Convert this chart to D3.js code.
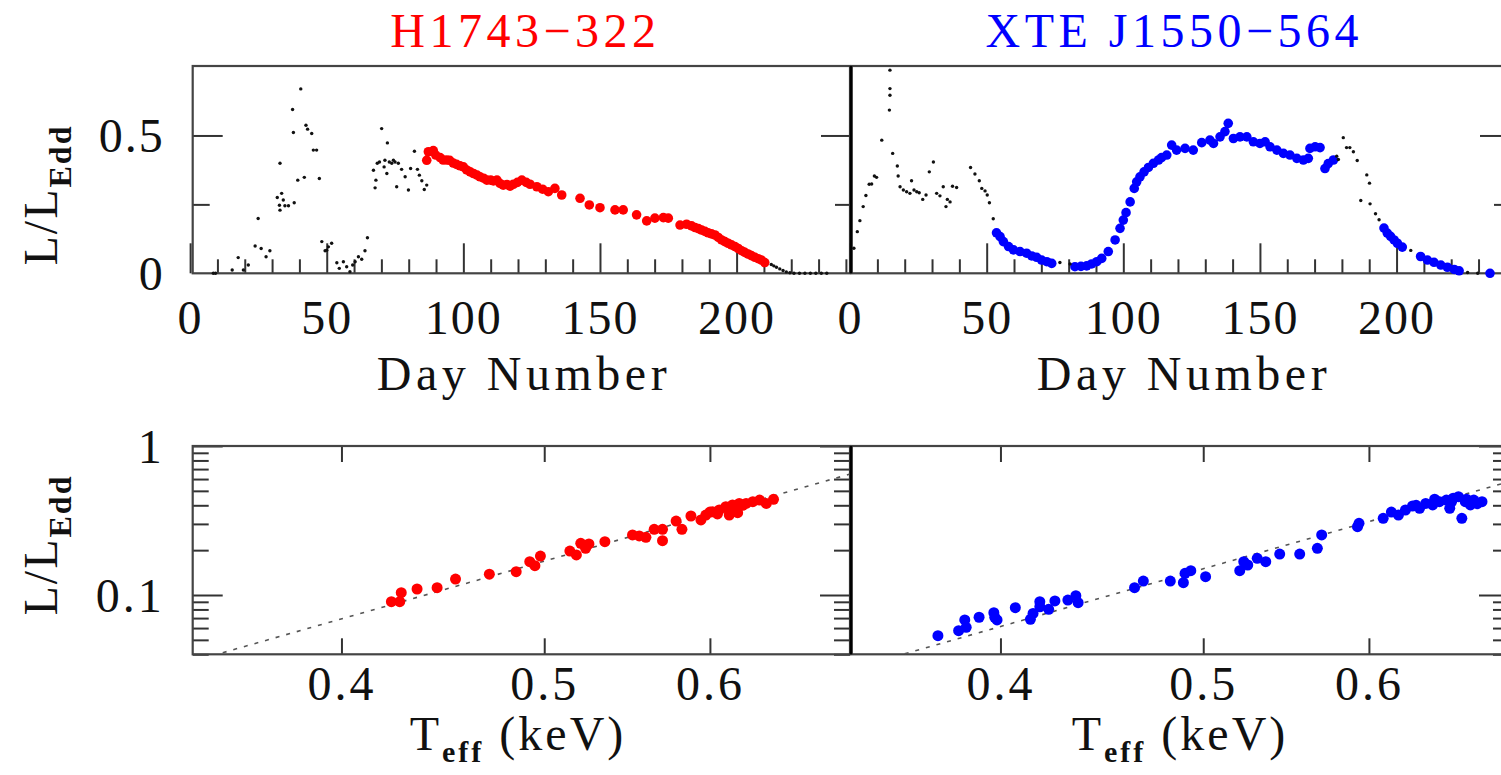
<!DOCTYPE html>
<html><head><meta charset="utf-8">
<script src="https://cdn.jsdelivr.net/npm/d3@7"></script>
<style>
body{margin:0;background:#fff;}
svg{display:block;}
text{font-family:"Liberation Serif","Times New Roman",serif;fill:#111;}
</style></head><body>
<svg id="c" width="1501" height="775"></svg>
<script>
// ---------------- DATA ----------------
const titles = ["H1743\u2212322", "XTE J1550\u2212564"];
const titleColors = ["#ff0000", "#0000ff"];

// H1743-322 light curve: black (non-thermal states) and red (thermal state)
const h1743BlackDay = [8.5,9.3,15.4,17.6,19.5,21.3,23.8,24.9,26,27.8,29.2,31.9,32.7,32.9,32.9,33.5,34.1,34.7,36,37.5,37.8,38.1,39.4,40.5,41.8,42.4,43,44.5,45.1,46.3,47.3,48.2,49.4,50,50.6,51.8,53.7,54.6,56.1,57.3,58.5,59.5,60.4,61.6,62.8,64,64.9,67.1,68,67.7,68.5,69.3,70.1,71,71.3,72,72.2,72.9,73.8,74.4,75,75.6,76.2,77.4,78.7,79.9,80.7,82.1,83.2,83.9,84.8,85.7,86.6,212.7,213.6,214.6,215.8,217,218.2,219.5,221,223,225,227,229,231,233];
const h1743BlackL   = [0,0,0.012,0.057,0.012,0.03,0.099,0.199,0.09,0.06,0.082,0.275,0.247,0.229,0.399,0.29,0.266,0.245,0.245,0.594,0.511,0.256,0.338,0.669,0.348,0.537,0.523,0.507,0.447,0.447,0.344,0.115,0.082,0.084,0.096,0.109,0.038,0.018,0.042,0.024,0.006,0.03,0.042,0.06,0.051,0.082,0.129,0.374,0.338,0.31,0.399,0.404,0.525,0.386,0.41,0.362,0.473,0.404,0.399,0.41,0.404,0.314,0.399,0.377,0.35,0.302,0.38,0.443,0.377,0.356,0.336,0.304,0.32,0.032,0.027,0.022,0.016,0.010,0.005,0.002,0,0,0,0,0,0,0];
const h1743RedDay = [86.6,87.2,89,89.9,91.5,92.6,93.9,95,96.3,97.5,98.8,100,101.2,102.5,103.7,105,106.1,107.4,108.6,110,111,112.3,113.4,114.6,116,117.1,118.3,119.8,121.4,123,124.4,126.9,129,131.1,133.5,136,142.7,146.1,150,155.5,158.5,163.4,167.1,170.1,173.2,175,179.3,181.7,183.5,184.8,186,187.2,188.4,189.6,190.8,192.1,193.3,194.5,195.7,196.9,198.1,199.4,200.6,201.8,203,204.2,205.4,206.7,207.9,209.1,210.3];
const h1743RedL   = [0.410,0.441,0.445,0.429,0.42,0.411,0.411,0.41,0.40,0.395,0.39,0.386,0.375,0.368,0.362,0.356,0.35,0.345,0.338,0.338,0.335,0.338,0.326,0.320,0.322,0.316,0.323,0.33,0.338,0.33,0.323,0.314,0.305,0.296,0.308,0.284,0.272,0.248,0.238,0.230,0.230,0.212,0.190,0.200,0.202,0.200,0.175,0.178,0.172,0.166,0.162,0.157,0.152,0.147,0.143,0.139,0.130,0.121,0.115,0.109,0.103,0.097,0.090,0.082,0.076,0.070,0.064,0.058,0.053,0.048,0.039];

// XTE J1550-564 light curve: black and blue (thermal state)
const xteBlackDay = [1.4,2.65,3.6,4.8,5.8,7.0,7.9,8.9,9.7,11.6,14.4,14.6,14.6,14.6,15.6,17.3,17.6,18.3,19.5,20.7,21.9,22.5,23.4,24.4,25.3,26.6,27.8,29.0,30.5,31.7,32.9,34.1,35.1,35.6,36.6,37.5,39.0,44.1,45.7,47.3,48.2,49.4,50.2,51.0,52.4,76.8,80.5,178.1,178.7,180.5,181.7,182.9,184.2,185.6,189.1,190.1,186.9,190.3,192.3,193.6,205.2,226,229.7];
const xteBlackL   = [0.091,0.151,0.191,0.242,0.282,0.323,0.324,0.353,0.348,0.483,0.592,0.646,0.670,0.737,0.435,0.389,0.353,0.314,0.302,0.296,0.290,0.336,0.302,0.296,0.292,0.268,0.284,0.368,0.404,0.290,0.281,0.314,0.242,0.268,0.259,0.316,0.311,0.384,0.360,0.336,0.308,0.299,0.284,0.256,0.198,0.039,0.034,0.425,0.413,0.492,0.456,0.456,0.441,0.409,0.357,0.327,0.264,0.252,0.216,0.194,0.083,0.003,0];
const xteBlueDay = [53.6,54.9,56.1,58.0,59.8,62.2,64.6,66.5,68.3,70.1,72.0,73.8,82.3,84.5,86.6,88.4,90.3,92.1,94.5,97.0,98.8,100,101,102.5,104,104.9,106.1,107.6,109.2,111,112.9,114,115.9,117.7,119.5,122.6,125.6,128.7,131.7,133,135.4,137.2,138.4,140.3,142.7,145.2,147.6,150,151.9,153.7,156.2,158.6,161,163.5,165.9,167.7,168.3,170.2,172,173.8,175,176.9,195.4,196.6,197.8,199.1,200.3,202.1,208.8,211.3,213.7,216.2,218.6,221.1,222.9,234.2];
const xteBlueL   = [0.147,0.133,0.115,0.097,0.085,0.079,0.073,0.063,0.058,0.048,0.042,0.036,0.024,0.025,0.027,0.034,0.042,0.054,0.079,0.121,0.163,0.193,0.220,0.259,0.308,0.332,0.350,0.368,0.384,0.399,0.411,0.420,0.429,0.465,0.447,0.453,0.447,0.474,0.483,0.471,0.495,0.514,0.544,0.489,0.495,0.495,0.477,0.471,0.477,0.459,0.447,0.435,0.429,0.417,0.411,0.417,0.453,0.459,0.456,0.380,0.398,0.411,0.164,0.146,0.134,0.121,0.109,0.095,0.061,0.048,0.040,0.030,0.022,0.014,0.009,0];

// L/LEdd vs Teff (thermal-state points)
const h1743T = [0.4226,0.4265,0.4272,0.4347,0.4444,0.4535,0.4707,0.4848,0.4921,0.4949,0.4979,0.5143,0.518,0.5205,0.5233,0.5252,0.5345,0.551,0.5551,0.5592,0.5643,0.5695,0.5695,0.5781,0.5818,0.5876,0.5941,0.5973,0.6017,0.6062,0.6106,0.6129,0.6151,0.6186,0.6197,0.6244,0.629,0.6337,0.6384,0.6435,0.605,0.612,0.622,0.600,0.618];
const h1743LT = [0.0902,0.0902,0.1036,0.1097,0.112,0.128,0.138,0.1434,0.1673,0.1573,0.1826,0.1973,0.1856,0.2223,0.2058,0.22,0.228,0.253,0.249,0.2438,0.276,0.276,0.2315,0.3137,0.276,0.339,0.3188,0.344,0.362,0.372,0.3915,0.344,0.402,0.357,0.412,0.412,0.423,0.434,0.412,0.439,0.35,0.38,0.40,0.36,0.39];
const xteT = [0.3734,0.382,0.3846,0.3852,0.3907,0.3971,0.3975,0.3985,0.4066,0.4134,0.4146,0.4177,0.4177,0.4218,0.4247,0.4308,0.4346,0.4357,0.4636,0.4681,0.4822,0.4892,0.4901,0.4932,0.5013,0.5205,0.5228,0.5251,0.5306,0.5356,0.5439,0.556,0.5669,0.5696,0.5925,0.5935,0.6095,0.6198,0.6246,0.6295,0.6344,0.6387,0.6436,0.6484,0.6534,0.6558,0.6583,0.6621,0.6646,0.6671,0.6709,0.6734,0.6795,0.615,0.632,0.645,0.657,0.668,0.676];
const xteLT = [0.0533,0.0576,0.068,0.0607,0.0709,0.0761,0.0709,0.068,0.0822,0.0687,0.0752,0.0902,0.0834,0.0802,0.0912,0.0925,0.0989,0.0888,0.112,0.124,0.124,0.121,0.1397,0.1457,0.1327,0.1457,0.1673,0.159,0.1762,0.1673,0.1884,0.1884,0.2057,0.253,0.2874,0.3027,0.327,0.344,0.372,0.3957,0.382,0.412,0.402,0.423,0.434,0.382,0.446,0.457,0.327,0.423,0.402,0.434,0.423,0.36,0.40,0.44,0.42,0.44,0.41];

// L ∝ T^4 reference lines (endpoints)
const fitT = [0.351, 0.70];
const h1743FitL = [0.041, 0.648];
const xteFitT = [0.36, 0.70];
const xteFitL = [0.0403, 0.576];

// ticks
const dayMajor = [0, 50, 100, 150, 200];
const dayMinor = [10,20,30,40,60,70,80,90,110,120,130,140,160,170,180,190,210,220,230,240];
const lMajor = [0.5];
const lMinor = [0.25];
const lLabels = [0, 0.5];
const logMajor = [0.1, 1];
const logMinor = [0.04,0.05,0.06,0.07,0.08,0.09,0.2,0.3,0.4,0.5,0.6,0.7,0.8,0.9];
const tTicks = [0.4, 0.5, 0.6];

// ---------------- LAYOUT ----------------
const svg = d3.select("#c");
const panelX = [[192.7, 850], [851.7, 1509]];
const dayDom = [[0.95, 241.5], [0.6, 241.15]];
const topY = [66, 273.3], botY = [446, 654.3];
const FS = 48;
const tickColor = "#333";

function styleAxis(g){
  g.select(".domain").remove();
  g.selectAll(".tick line").attr("stroke", tickColor).attr("stroke-width", 2);
}

[0,1].forEach(p => {
  const [x0, x1] = panelX[p];
  const x = d3.scaleLinear(dayDom[p], [x0, x1]);
  const y = d3.scaleLinear([0, 0.752], [topY[1], topY[0]]);
  const g = svg.append("g");

  // bottom ticks
  g.append("g").attr("transform", `translate(0,${topY[1]})`)
    .call(d3.axisBottom(x).tickValues(dayMinor).tickSize(-14).tickFormat("")).call(styleAxis);
  const bx = g.append("g").attr("transform", `translate(0,${topY[1]})`)
    .call(d3.axisBottom(x).tickValues(dayMajor).tickSize(-30).tickFormat(d3.format("d"))).call(styleAxis);
  bx.selectAll("text").attr("y", 61).attr("dy", null).attr("font-size", FS)
    .attr("letter-spacing", 2).attr("fill", "#111").attr("font-family", "Liberation Serif");

  // left ticks (left panel only)
  if (p === 0) {
    g.append("g").attr("transform", `translate(${x0},0)`)
      .call(d3.axisLeft(y).tickValues(lMinor).tickSize(-17).tickFormat("")).call(styleAxis);
    g.append("g").attr("transform", `translate(${x0},0)`)
      .call(d3.axisLeft(y).tickValues(lMajor).tickSize(-30).tickFormat("")).call(styleAxis);
    const lab = g.append("g").attr("transform", `translate(${x0},0)`)
      .call(d3.axisLeft(y).tickValues(lLabels).tickSize(0).tickPadding(28).tickFormat(d => d === 0 ? "0" : d3.format(".1f")(d)));
    lab.select(".domain").remove();
    lab.selectAll("text").attr("font-size", FS).attr("font-family", "Liberation Serif").attr("fill", "#111")
      .attr("dy", "0.34em").attr("letter-spacing", 2);
  }
  // right ticks
  g.append("g").attr("transform", `translate(${x1},0)`)
    .call(d3.axisRight(y).tickValues(lMinor).tickSize(-15).tickFormat("")).call(styleAxis);
  g.append("g").attr("transform", `translate(${x1},0)`)
    .call(d3.axisRight(y).tickValues(lMajor).tickSize(-29).tickFormat("")).call(styleAxis);

  // frame
  g.append("rect").attr("x", x0).attr("y", topY[0]).attr("width", x1 - x0).attr("height", topY[1] - topY[0])
    .attr("fill", "none").attr("stroke", "#444").attr("stroke-width", 2.2);

  // data
  const bd = p === 0 ? h1743BlackDay : xteBlackDay, bl = p === 0 ? h1743BlackL : xteBlackL;
  const cd = p === 0 ? h1743RedDay : xteBlueDay, cl = p === 0 ? h1743RedL : xteBlueL;
  g.append("g").selectAll("circle").data(cd).join("circle")
    .attr("cx", d => x(d)).attr("cy", (d, i) => y(cl[i])).attr("r", 4.8).attr("fill", titleColors[p]);
  g.append("g").selectAll("circle").data(bd).join("circle")
    .attr("cx", d => x(d)).attr("cy", (d, i) => y(bl[i])).attr("r", 1.7).attr("fill", "#111");

  // title
  svg.append("text").attr("x", (x0 + Math.min(x1, 1501)) / 2 + (p === 0 ? 4 : -2)).attr("y", 47)
    .attr("text-anchor", "middle").attr("font-size", FS).attr("letter-spacing", 4.5)
    .style("fill", titleColors[p]).text(titles[p]);
  // x label
  svg.append("text").attr("x", p === 0 ? 524 : 1184).attr("y", 390)
    .attr("text-anchor", "middle").attr("font-size", FS).attr("letter-spacing", 4.5).text("Day Number");

  // ---------- bottom panel ----------
  const tx = d3.scaleLog([0.3396, 0.700], [x0, x1]);
  const ty = d3.scaleLog([0.04, 1], [botY[1], botY[0]]);
  const gb = svg.append("g");
  gb.append("g").attr("transform", `translate(0,${botY[0]})`)
    .call(d3.axisTop(tx).tickValues(tTicks).tickSize(-16).tickFormat("")).call(styleAxis);
  const tb = gb.append("g").attr("transform", `translate(0,${botY[1]})`)
    .call(d3.axisBottom(tx).tickValues(tTicks).tickSize(-16).tickFormat(d3.format(".1f"))).call(styleAxis);
  tb.selectAll("text").attr("y", 46).attr("dy", null).attr("font-size", FS)
    .attr("letter-spacing", 3).attr("fill", "#111").attr("font-family", "Liberation Serif");
  if (p === 0) {
    gb.append("g").attr("transform", `translate(${x0},0)`)
      .call(d3.axisLeft(ty).tickValues(logMinor).tickSize(-16).tickFormat("")).call(styleAxis);
    gb.append("g").attr("transform", `translate(${x0},0)`)
      .call(d3.axisLeft(ty).tickValues(logMajor).tickSize(-30).tickFormat("")).call(styleAxis);
    const ll = gb.append("g").attr("transform", `translate(${x0},0)`)
      .call(d3.axisLeft(ty).tickValues(logMajor).tickSize(0).tickPadding(28).tickFormat(d => d === 1 ? "1" : "0.1"));
    ll.select(".domain").remove();
    ll.selectAll("text").attr("font-size", FS).attr("font-family", "Liberation Serif").attr("fill", "#111")
      .attr("dy", "0.34em").attr("letter-spacing", 3);
  }
  gb.append("g").attr("transform", `translate(${x1},0)`)
    .call(d3.axisRight(ty).tickValues(logMinor).tickSize(-16).tickFormat("")).call(styleAxis);
  gb.append("g").attr("transform", `translate(${x1},0)`)
    .call(d3.axisRight(ty).tickValues(logMajor).tickSize(-30).tickFormat("")).call(styleAxis);
  gb.append("rect").attr("x", x0).attr("y", botY[0]).attr("width", x1 - x0).attr("height", botY[1] - botY[0])
    .attr("fill", "none").attr("stroke", "#444").attr("stroke-width", 2.2);

  const fT = p === 0 ? fitT : xteFitT, fL = p === 0 ? h1743FitL : xteFitL;
  gb.append("path").datum(fT)
    .attr("d", d3.line().x(d => tx(d)).y((d, i) => ty(fL[i])))
    .attr("fill", "none").attr("stroke", "#555").attr("stroke-width", 1.6).attr("stroke-dasharray", "4,7");
  const sT = p === 0 ? h1743T : xteT, sL = p === 0 ? h1743LT : xteLT;
  gb.append("g").selectAll("circle").data(sT).join("circle")
    .attr("cx", d => tx(d)).attr("cy", (d, i) => ty(sL[i])).attr("r", 5.5).attr("fill", titleColors[p]);

  // x label T_eff (keV)
  const xl = svg.append("text").attr("x", p === 0 ? 518 : 1180).attr("y", 750)
    .attr("text-anchor", "middle").attr("font-size", FS).attr("letter-spacing", 3);
  xl.append("tspan").text("T");
  xl.append("tspan").attr("dy", 12).attr("font-size", 30).attr("font-weight", "bold").text("eff");
  xl.append("tspan").attr("dy", -12).text(" (keV)");
});

// middle boundary
svg.append("line").attr("x1", 851).attr("x2", 851).attr("y1", topY[0]).attr("y2", topY[1]).attr("stroke", "#000").attr("stroke-width", 2.6);
svg.append("line").attr("x1", 851).attr("x2", 851).attr("y1", botY[0]).attr("y2", botY[1]).attr("stroke", "#000").attr("stroke-width", 2.6);

// y labels
[[57, 195], [57, 545]].forEach(([cx, cy]) => {
  const t = svg.append("text").attr("transform", `translate(${cx},${cy}) rotate(-90)`)
    .attr("text-anchor", "middle").attr("font-size", FS).attr("letter-spacing", 2);
  t.append("tspan").text("L/L");
  t.append("tspan").attr("dy", 14).attr("font-size", 32).attr("font-weight", "bold").text("Edd");
});
</script>
</body></html>
